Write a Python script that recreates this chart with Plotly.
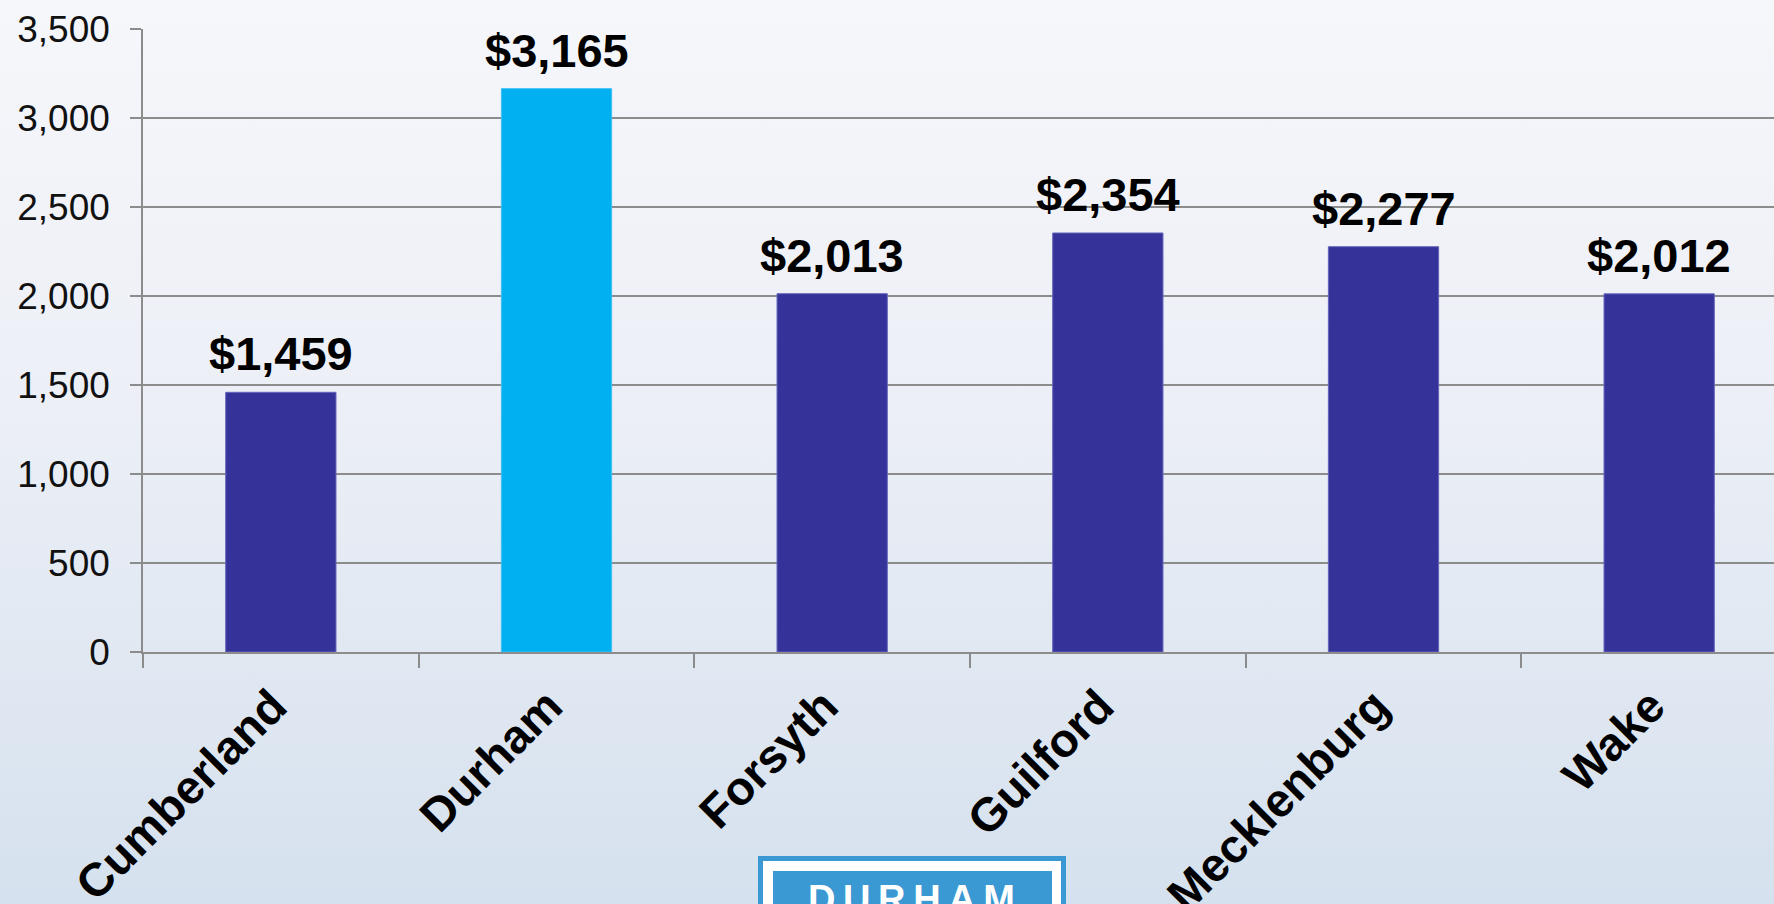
import base64
import plotly.graph_objects as go

counties = ["Cumberland", "Durham", "Forsyth", "Guilford", "Mecklenburg", "Wake"]
values = [1459, 3165, 2013, 2354, 2277, 2012]
labels = ["$1,459", "$3,165", "$2,013", "$2,354", "$2,277", "$2,012"]
highlight = "Durham"

W, H = 1774, 904
L, T, B = 143, 29, 652  # plot area pixels
PW = W - L
PH = B - T


def px_x(px):
    return (px - L) / PW


def px_y(py):
    return (B - py) / PH


bar_colors = ["#00b0f0" if c == highlight else "#353399" for c in counties]
line_colors = ["#3fc0f2" if c == highlight else "#6464bb" for c in counties]

fig = go.Figure()
fig.add_trace(go.Bar(
    x=counties, y=values,
    marker=dict(color=bar_colors, line=dict(color=line_colors, width=1)),
    hoverinfo="skip",
))

annotations = []
for c, v, t in zip(counties, values, labels):
    annotations.append(dict(x=c, y=v, xref="x", yref="y", text=t, showarrow=False,
                            xanchor="center", yanchor="bottom", yshift=10,
                            font=dict(family="Liberation Sans, Arial", size=47,
                                      color="#000000", weight="bold")))

# background gradient via SVG data URI
svg = ('<svg xmlns="http://www.w3.org/2000/svg" width="100" height="100" preserveAspectRatio="none">'
       '<defs><linearGradient id="g" x1="0" y1="0" x2="0" y2="1">'
       '<stop offset="0" stop-color="#f6f7fb"/><stop offset="0.45" stop-color="#eceff6"/>'
       '<stop offset="1" stop-color="#d5e1ee"/></linearGradient></defs>'
       '<rect width="100" height="100" fill="url(#g)"/></svg>')
uri = "data:image/svg+xml;base64," + base64.b64encode(svg.encode()).decode()

cat_w = (W + 23 - L) / 6.0
xmax = -0.5 + PW / cat_w

shapes = []


def rect(x0, y0, x1, y1, color):
    return dict(type="rect", xref="paper", yref="paper", x0=px_x(x0), x1=px_x(x1),
                y0=px_y(y0), y1=px_y(y1), fillcolor=color, line=dict(width=0), layer="above")


shapes.append(rect(758, 856, 1066, 930, "#3a98d2"))
shapes.append(rect(763, 861, 1061, 930, "#ffffff"))
shapes.append(rect(773, 871, 1052, 930, "#3a98d2"))

annotations.append(dict(text="D\u2009U\u2009R\u2009H\u2009A\u2009M", xref="paper", yref="paper",
                        x=px_x(911), y=px_y(876), xanchor="center", yanchor="top",
                        showarrow=False,
                        font=dict(family="Liberation Sans, Arial", size=38, color="#ffffff",
                                  weight="bold")))

fig.update_layout(
    width=W, height=H,
    margin=dict(l=L, r=0, t=T, b=H - B, pad=0, autoexpand=False),
    paper_bgcolor="#d5e1ee", plot_bgcolor="rgba(0,0,0,0)",
    showlegend=False,
    bargap=0.6,
    images=[dict(source=uri, xref="paper", yref="paper", x=px_x(-5), y=px_y(-5),
                 sizex=px_x(W + 5) - px_x(-5), sizey=px_y(-5) - px_y(H + 5),
                 sizing="stretch", xanchor="left", yanchor="top", layer="below")],
    shapes=shapes,
    annotations=annotations,
    xaxis=dict(
        type="category", range=[-0.5, xmax], automargin=False,
        tickangle=-45, tickson="boundaries", ticks="outside", ticklen=14,
        tickcolor="#8c8c8c", tickwidth=1.5,
        showline=True, linecolor="#8c8c8c", linewidth=1.5,
        showgrid=False, ticklabelstandoff=6, ticklabelshift=-8,
        tickfont=dict(family="Liberation Sans, Arial", size=47, color="#000000", weight="bold"),
    ),
    yaxis=dict(
        range=[0, 3500], dtick=500, tickformat=",", automargin=False,
        ticks="outside", ticklen=11, tickcolor="#8c8c8c", tickwidth=1.5,
        showline=True, linecolor="#8c8c8c", linewidth=1.5,
        showgrid=True, gridcolor="#8c8c8c", gridwidth=1.5,
        zeroline=False, ticklabelstandoff=13,
        tickfont=dict(family="Liberation Sans, Arial", size=37, color="#111111"),
    ),
    font=dict(family="Liberation Sans, Arial"),
)

fig.write_html("out.html", config={"displayModeBar": False, "responsive": False},
               post_script="document.body.style.margin='0';document.body.style.overflow='hidden';")
